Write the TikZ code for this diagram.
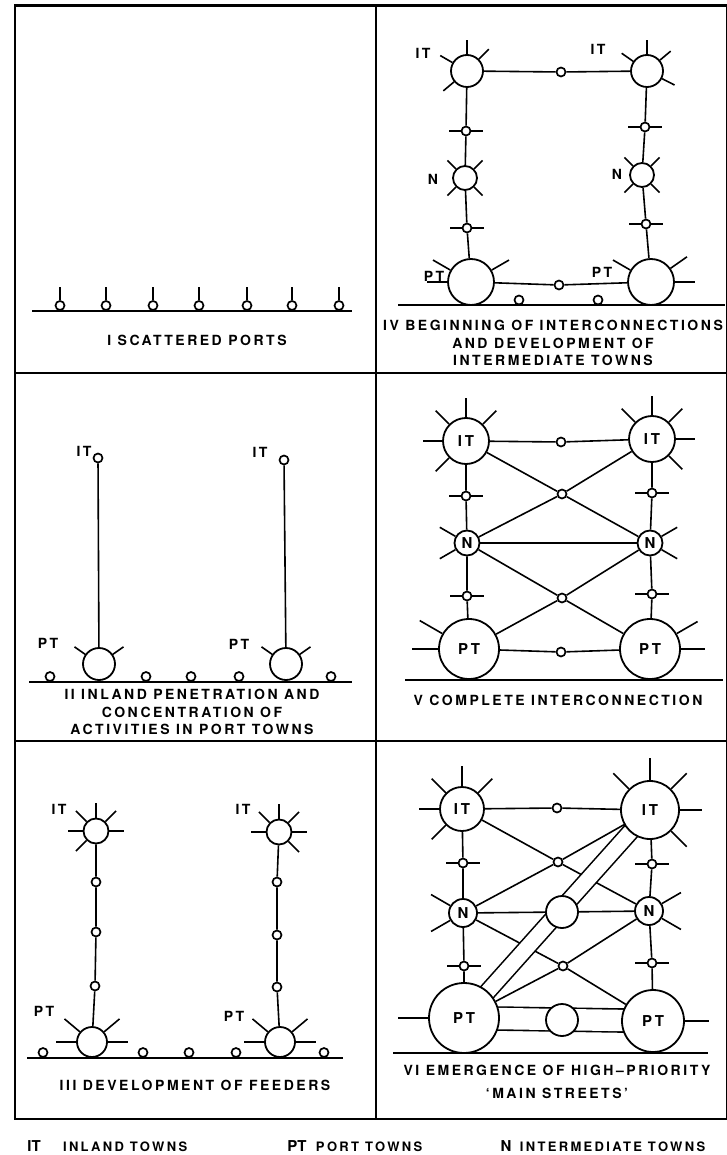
\documentclass[tikz,border=0pt]{standalone}
\usepackage{fontspec}
\newfontfamily\heros{TeX Gyre Heros}[LetterSpace=18]
\newfontfamily\herosplain{TeX Gyre Heros}
\usetikzlibrary{positioning, backgrounds}

% rays round a town, and the short cross bar through a stop
\newcommand\rays[3]{\foreach \a in {#2}{\draw[ray] (#1.\a) -- ++(\a:#3);}}
\newcommand\stopcross[1]{\draw[ray] (#1.west) -- ++(-12,0) (#1.east) -- ++(12,0);}

\begin{document}
\begin{tikzpicture}[x=1pt, y=1pt,
    town/.style={circle, draw, line width=1.8pt, fill=white, inner sep=0pt, font=\heros\bfseries\fontsize{15}{15}\selectfont},
    stop/.style={circle, draw, line width=1.7pt, fill=white, minimum size=9pt, inner sep=0pt},
    link/.style={line width=1.6pt},
    ray/.style={line width=1.6pt},
    ground/.style={line width=1.9pt},
    frame/.style={line width=2.4pt},
    band/.style={line width=1.6pt, double=white, double distance=#1},
    caption/.style={font=\heros\bfseries\fontsize{14}{17.5}\selectfont, align=center, inner sep=0pt},
    tag/.style={font=\heros\bfseries\fontsize{14}{14}\selectfont, inner sep=0pt},
    legtag/.style={font=\herosplain\bfseries\fontsize{15}{15}\selectfont, inner sep=0pt},
    legtext/.style={font=\heros\bfseries\fontsize{13}{13}\selectfont, inner sep=0pt},
  ]
    \useasboundingbox (0,0) rectangle (727,-1155);

    % frame
    \draw[frame] (15,-5.5) rectangle (727,-1119);
    \draw[frame] (376,-5.5) -- (376,-1119);
    \draw[frame] (15,-373) -- (727,-373);
    \draw[frame] (15,-741) -- (727,-741);

    % I
    \draw[ground] (32,-311) -- (352,-311);
    \foreach \x [count=\i] in {60,106,153,199,247,292,339}{
      \node[stop] (port1-\i) at (\x,-305.5) {};
      \draw[ray] (port1-\i.north) -- ++(0,13);
    }
    \node[caption] (cap1) at (197,-340) {I SCATTERED PORTS};

    % II
    \draw[ground] (29,-682) -- (352,-682);
    \node[town, minimum size=32pt] (pt2l) at (99,-664) {};
    \node[town, minimum size=32pt] (pt2r) at (286,-664) {};
    \node[stop] (it2l) at (98,-458) {};
    \node[stop] (it2r) at (284,-460) {};
    \draw[link] (it2l) -- (pt2l);
    \draw[link] (it2r) -- (pt2r);
    \rays{pt2l}{35,145}{13}
    \rays{pt2r}{35,145}{13}
    \foreach \x [count=\i] in {50,146,191,239,331}
      \node[stop] (port2-\i) at (\x,-676.5) {};
    \node[tag] (t2a) at (84,-451) {IT};
    \node[tag] (t2b) at (260,-452) {IT};
    \node[tag] (t2c) at (48,-643) {PT};
    \node[tag] (t2d) at (239,-644) {PT};
    \node[caption] (cap2) at (192,-712) {II INLAND PENETRATION AND\\CONCENTRATION OF\\ACTIVITIES IN PORT TOWNS};

    % III
    \draw[ground] (27,-1058) -- (343,-1058);
    \node[town, minimum size=25pt] (it3l) at (96,-831) {};
    \node[town, minimum size=25pt] (it3r) at (279,-832) {};
    \node[town, minimum size=30pt] (pt3l) at (92,-1042) {};
    \node[town, minimum size=30pt] (pt3r) at (280,-1042) {};
    \node[stop] (s3a) at (96,-882) {};
    \node[stop] (s3b) at (96,-932) {};
    \node[stop] (s3c) at (95,-986) {};
    \node[stop] (s3d) at (277,-882) {};
    \node[stop] (s3e) at (277,-935) {};
    \node[stop] (s3f) at (277,-987) {};
    \draw[link] (it3l) -- (s3a) (s3a) -- (s3b) (s3b) -- (s3c) (s3c) -- (pt3l);
    \draw[link] (it3r) -- (s3d) (s3d) -- (s3e) (s3e) -- (s3f) (s3f) -- (pt3r);
    \rays{it3l}{0,45,90,135,180,225}{15}
    \rays{it3r}{0,45,90,135,180,315}{15}
    \rays{pt3l}{0,40,140,180}{20}
    \rays{pt3r}{0,40,140,180}{20}
    \foreach \x [count=\i] in {43,143,189,236,324}
      \node[stop] (port3-\i) at (\x,-1052.5) {};
    \node[tag] (t3a) at (59,-809) {IT};
    \node[tag] (t3b) at (243,-809) {IT};
    \node[tag] (t3c) at (44,-1011) {PT};
    \node[tag] (t3d) at (234,-1016) {PT};
    \node[caption] (cap3) at (195,-1085) {III DEVELOPMENT OF FEEDERS};

    % IV
    \draw[ground] (398,-305) -- (725,-305);
    \node[town, minimum size=32pt] (it4l) at (467,-71) {};
    \node[town, minimum size=32pt] (it4r) at (647,-71) {};
    \node[town, minimum size=24pt] (n4l) at (465,-178) {};
    \node[town, minimum size=24pt] (n4r) at (642,-175) {};
    \node[town, minimum size=46pt] (pt4l) at (471,-282) {};
    \node[town, minimum size=46pt] (pt4r) at (651,-282) {};
    \node[stop] (s4t) at (561,-72) {};
    \node[stop] (s4a) at (466,-131) {};
    \node[stop] (s4b) at (467,-228) {};
    \node[stop] (s4c) at (645,-127) {};
    \node[stop] (s4d) at (646,-224) {};
    \node[stop] (s4m) at (559,-285) {};
    \node[stop] (port4-1) at (519,-300) {};
    \node[stop] (port4-2) at (598,-300) {};
    \draw[link] (it4l) -- (s4t) (s4t) -- (it4r);
    \draw[link] (it4l) -- (s4a) (s4a) -- (n4l) (n4l) -- (s4b) (s4b) -- (pt4l);
    \draw[link] (it4r) -- (s4c) (s4c) -- (n4r) (n4r) -- (s4d) (s4d) -- (pt4r);
    \draw[link] (pt4l) -- (s4m) (s4m) -- (pt4r);
    \rays{it4l}{45,90,150,220}{14}
    \rays{it4r}{333,40,90,145}{14}
    \rays{n4l}{45,135,225,315}{12}
    \rays{n4r}{45,135,225,315}{12}
    \rays{pt4l}{30,150,180}{20}
    \rays{pt4r}{0,35,150}{20}
    \stopcross{s4a} \stopcross{s4b} \stopcross{s4c} \stopcross{s4d}
    \node[tag] (t4a) at (423,-53) {IT};
    \node[tag] (t4b) at (598,-49) {IT};
    \node[tag] (t4c) at (433,-179) {N};
    \node[tag] (t4d) at (617,-174) {N};
    \node[tag] (t4e) at (434,-276) {PT};
    \node[tag] (t4f) at (602,-272) {PT};
    \node[caption] (cap4) at (553,-343) {IV BEGINNING OF INTERCONNECTIONS\\AND DEVELOPMENT OF\\INTERMEDIATE TOWNS};

    % V
    \draw[ground] (405,-680) -- (723,-680);
    \node[town, minimum size=46pt] (it5l) at (466,-441) {IT};
    \node[town, minimum size=46pt] (it5r) at (652,-439) {IT};
    \node[town, minimum size=25pt] (n5l) at (467,-543) {N};
    \node[town, minimum size=25pt] (n5r) at (650,-543) {N};
    \node[town, minimum size=60pt] (pt5l) at (469,-649) {PT};
    \node[town, minimum size=60pt] (pt5r) at (650,-649) {PT};
    \node[stop] (s5t) at (561,-442) {};
    \node[stop] (s5a) at (466,-496) {};
    \node[stop] (s5b) at (467,-596) {};
    \node[stop] (s5c) at (652,-493) {};
    \node[stop] (s5d) at (652,-594) {};
    \node[stop] (s5m) at (561,-652) {};
    \node[stop] (c5u) at (562,-494) {};
    \node[stop] (c5d) at (562,-598) {};
    \draw[link] (it5l) -- (s5t) (s5t) -- (it5r);
    \draw[link] (it5l) -- (s5a) (s5a) -- (n5l) (n5l) -- (s5b) (s5b) -- (pt5l);
    \draw[link] (it5r) -- (s5c) (s5c) -- (n5r) (n5r) -- (s5d) (s5d) -- (pt5r);
    \draw[link] (pt5l) -- (s5m) (s5m) -- (pt5r);
    \draw[link] (it5l) -- (c5u) (c5u) -- (n5r);
    \draw[link] (n5l) -- (c5u) (c5u) -- (it5r);
    \draw[link] (n5l) -- (n5r);
    \draw[link] (n5l) -- (c5d) (c5d) -- (pt5r);
    \draw[link] (pt5l) -- (c5d) (c5d) -- (n5r);
    \rays{it5l}{45,90,135,180,225}{19}
    \rays{it5r}{0,45,90,135,315}{19}
    \rays{n5l}{150,210}{18}
    \rays{n5r}{30,330}{18}
    \rays{pt5l}{150,180}{26}
    \rays{pt5r}{0,30}{24}
    \stopcross{s5a} \stopcross{s5b} \stopcross{s5c} \stopcross{s5d}
    \node[caption] (cap5) at (558,-700) {V COMPLETE INTERCONNECTION};

    % VI
    \draw[ground] (393,-1053) -- (708,-1053);
    \node[town, minimum size=44pt] (it6l) at (462,-809) {IT};
    \node[town, minimum size=58pt] (it6r) at (650,-810) {IT};
    \node[town, minimum size=28pt] (n6l) at (463,-913) {N};
    \node[town, minimum size=28pt] (n6r) at (649,-911) {N};
    \node[town, minimum size=70pt] (pt6l) at (464,-1018) {PT};
    \node[town, minimum size=62pt] (pt6r) at (653,-1021) {PT};
    \node[town, minimum size=32pt] (m6) at (562,-912) {};
    \node[town, minimum size=32pt] (m6b) at (562,-1020) {};
    \node[stop] (s6t) at (557,-808) {};
    \node[stop] (s6a) at (463,-863) {};
    \node[stop] (s6b) at (464,-966) {};
    \node[stop] (s6c) at (652,-864) {};
    \node[stop] (s6d) at (652,-963) {};
    \node[stop] (c6u) at (558,-862) {};
    \node[stop] (c6d) at (563,-966) {};
    \begin{scope}[on background layer]
      \draw[link] (it6l) -- (s6t) (s6t) -- (it6r);
      \draw[link] (it6l) -- (s6a) (s6a) -- (n6l) (n6l) -- (s6b) (s6b) -- (pt6l);
      \draw[link] (it6r) -- (s6c) (s6c) -- (n6r) (n6r) -- (s6d) (s6d) -- (pt6r);
      \draw[link] (it6l) -- (c6u) (c6u) -- (n6r);
      \draw[link] (n6l) -- (c6u) (c6u) -- (it6r);
      \draw[link] (n6l) -- (m6) (m6) -- (n6r);
      \draw[link] (n6l) -- (c6d) (c6d) -- (pt6r);
      \draw[link] (pt6l) -- (c6d) (c6d) -- (n6r);
      \draw[band=15pt] (pt6l.center) -- (it6r.center);
      \draw[band=21.4pt] (pt6l.center) -- (pt6r.center);
    \end{scope}
    \rays{it6l}{45,90,135,180,225}{20}
    \rays{it6r}{0,45,90,135,315}{22}
    \rays{n6l}{150,210}{22}
    \rays{n6r}{30,330}{22}
    \rays{pt6l}{180}{30}
    \rays{pt6r}{0}{24}
    \stopcross{s6a} \stopcross{s6b} \stopcross{s6c} \stopcross{s6d}
    \node[caption] (cap6) at (557,-1081.5) {VI EMERGENCE OF HIGH–PRIORITY\\[5.5pt]‘MAIN STREETS’};

    % legend
    \node[legtag] (lgit) at (34,-1146) {IT};
    \node[legtext, base right=22pt of lgit] (lgitt) {INLAND TOWNS};
    \node[legtag] (lgpt) at (297,-1146) {PT};
    \node[legtext, base right=9pt of lgpt] (lgptt) {PORT TOWNS};
    \node[legtag] (lgn) at (506,-1146) {N};
    \node[legtext, base right=8pt of lgn] (lgnt) {INTERMEDIATE TOWNS};
  \end{tikzpicture}
\end{document}
